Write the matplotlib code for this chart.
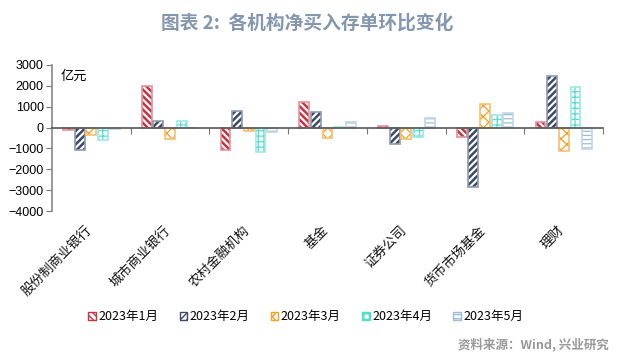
import numpy as np
import matplotlib
matplotlib.use("Agg")
import matplotlib.pyplot as plt
from matplotlib.patches import Patch

plt.rcParams['font.family'] = ['Noto Sans CJK SC', 'DejaVu Sans']

categories = ['股份制商业银行', '城市商业银行', '农村金融机构', '基金', '证券公司', '货币市场基金', '理财']
months = ['2023年1月', '2023年2月', '2023年3月', '2023年4月', '2023年5月']

jan = [-100, 2000, -1060, 1210, 80, -430, 290]
feb = [-1060, 340, 790, 770, -790, -2830, 2460]
mar = [-370, -560, -150, -480, -540, 1110, -1100]
apr = [-580, 340, -1150, 50, -430, 610, 1930]
may = [-50, -30, -210, 290, 470, 690, -1010]
series = [jan, feb, mar, apr, may]

hatch_colors = ['#c8323f', '#3b4a68', '#f5a020', '#55dcd0', '#9cbcdc']
edge_colors = ['#e8909a', '#8e9ab0', '#f8c070', '#9aeae4', '#c0d4ea']
hatches = ['\\' * 5, '/' * 5, 'xxx', '+++', '----']
hatch_lw = [1.8, 1.8, 0.9, 0.9, 0.9]

fig = plt.figure(figsize=(6.18, 3.59), dpi=100)
ax = fig.add_axes([0.084, 0.412, 0.892, 0.407])

x = np.arange(len(categories))
step = 0.148
width = 0.125
for i, vals in enumerate(series):
    pos = x + (i - 2) * step
    with plt.rc_context({'hatch.linewidth': hatch_lw[i]}):
        ax.bar(pos, vals, width, color='white', edgecolor=hatch_colors[i],
               hatch=hatches[i], linewidth=0)
    ax.bar(pos, vals, width, fill=False, edgecolor=edge_colors[i], linewidth=1.2)

ax.set_xlim(-0.5, len(categories) - 0.5)
ax.set_ylim(-4000, 3000)
ax.set_yticks(np.arange(-4000, 3001, 1000))
ax.tick_params(axis='y', labelsize=9, length=4, color='#777777', pad=2)
for lab in ax.get_yticklabels():
    lab.set_family(['Liberation Sans', 'DejaVu Sans'])

for s in ['top', 'right']:
    ax.spines[s].set_visible(False)
ax.spines['left'].set_color('#888888')
ax.spines['left'].set_linewidth(1.2)
ax.spines['bottom'].set_position(('data', 0))
ax.spines['bottom'].set_color('#555555')
ax.spines['bottom'].set_linewidth(1.2)
ax.set_xticks(np.arange(0.5, len(categories), 1.0))
ax.set_xticklabels([])
ax.tick_params(axis='x', length=4, color='#777777', direction='out')

for xi, name in zip(x, categories):
    ax.text(xi + 0.04, -4600, name, rotation=45, ha='right', va='top',
            fontsize=9.5, color='#111111')

ax.text(0.015, 0.97, '亿元', transform=ax.transAxes, fontsize=9.5,
        va='top', ha='left', style='italic')

handles = []
for i in range(5):
    with plt.rc_context({'hatch.linewidth': 1.0}):
        handles.append(Patch(facecolor='white', edgecolor=hatch_colors[i],
                             hatch=hatches[i], linewidth=1))
fig.legend(handles, months, loc='center', bbox_to_anchor=(0.495, 0.118), ncol=5,
           frameon=False, fontsize=9, handlelength=0.6, handleheight=0.6,
           handletextpad=0.2, columnspacing=1.7)

fig.text(0.497, 0.935, '图表 2:  各机构净买入存单环比变化', ha='center', va='center',
         fontsize=13.5, fontweight='bold', color='#8497b0')
fig.text(0.985, 0.04, '资料来源：Wind, 兴业研究', ha='right', va='center',
         fontsize=9, fontweight='bold', color='#999999')

fig.savefig('out.png', dpi=100)
